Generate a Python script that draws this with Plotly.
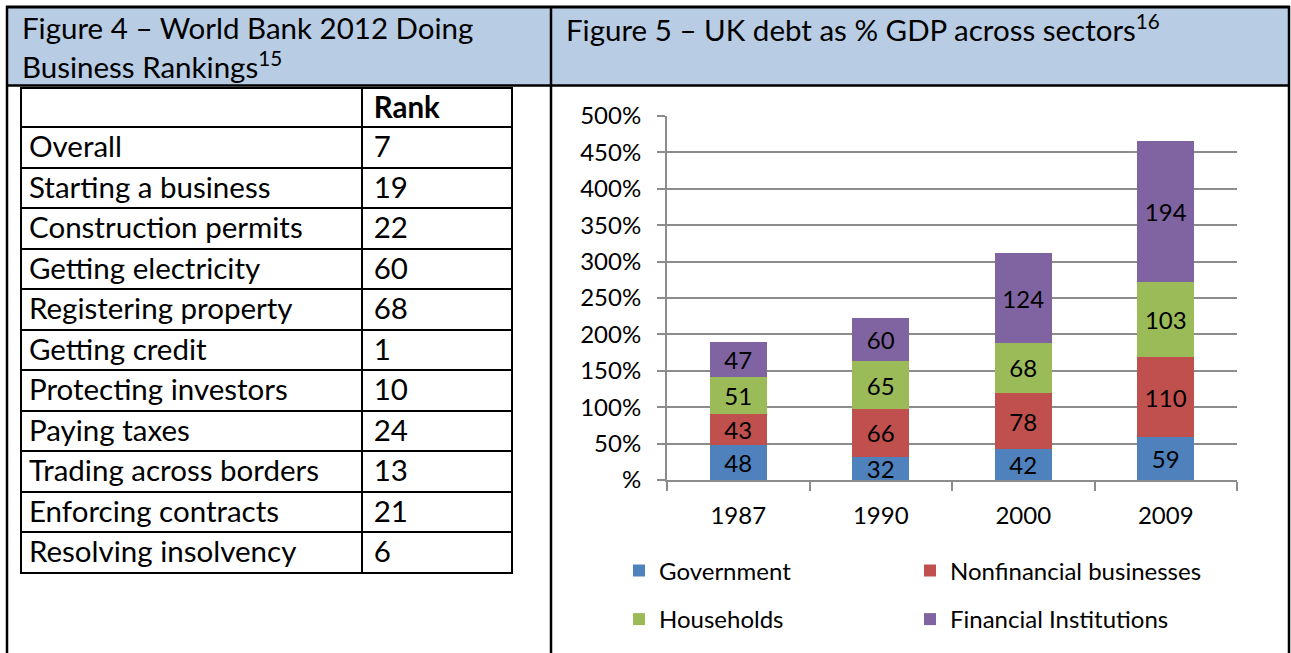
import plotly.graph_objects as go

# ---------------- data ----------------
years = ["1987", "1990", "2000", "2009"]
government = [48, 32, 42, 59]
nonfinancial = [43, 66, 78, 110]
households = [51, 65, 68, 103]
financial = [47, 60, 124, 194]
series_names = ["Government", "Nonfinancial businesses", "Households", "Financial Institutions"]
series_colors = ["#4F81BD", "#C0504D", "#9BBB59", "#8064A2"]

y_tick_values = [0, 50, 100, 150, 200, 250, 300, 350, 400, 450, 500]
y_tick_labels = ["%", "50%", "100%", "150%", "200%", "250%", "300%", "350%", "400%", "450%", "500%"]

table_header = ["", "Rank"]
indicators = ["Overall", "Starting a business", "Construction permits", "Getting electricity",
              "Registering property", "Getting credit", "Protecting investors", "Paying taxes",
              "Trading across borders", "Enforcing contracts", "Resolving insolvency"]
ranks = [7, 19, 22, 60, 68, 1, 10, 24, 13, 21, 6]

title_left_1 = "Figure 4 – World Bank 2012 Doing"
title_left_2 = "Business Rankings<sup>15</sup>"
title_right = "Figure 5 – UK debt as % GDP across sectors<sup>16</sup>"

# ---------------- layout helpers ----------------
W, H = 1291, 653
FONT = "Lato"
FS_DOC = 29.5     # document text (table, figure titles)
FS_CHART = 24     # chart text
PAD = "\u2009"    # small extra left padding in rank column


def px(x):
    return x / W


def py(y):
    return 1 - y / H


fig = go.Figure()

# table (Figure 4)
fig.add_trace(go.Table(
    domain=dict(x=[px(21), px(512)], y=[0, py(88)]),
    columnwidth=[341, 150],
    header=dict(values=[table_header[0], PAD + table_header[1]], height=39, align="left",
                fill_color="white", line=dict(color="black", width=2),
                font=dict(family=FONT, size=FS_DOC, color="black", weight="bold")),
    cells=dict(values=[indicators, [PAD + str(r) for r in ranks]],
               height=40.5, align="left",
               fill_color="white", line=dict(color="black", width=2),
               font=dict(family=FONT, size=FS_DOC, color="black")),
))

# stacked bars (Figure 5)
series_values = [government, nonfinancial, households, financial]
legend_ids = ["legend", "legend", "legend2", "legend2"]
for name, vals, col, lg in zip(series_names, series_values, series_colors, legend_ids):
    fig.add_trace(go.Bar(
        x=years, y=vals, name=name, marker=dict(color=col, line=dict(width=0)),
        text=[str(v) for v in vals], textposition="inside", insidetextanchor="middle",
        textangle=0, textfont=dict(family=FONT, size=FS_CHART, color="black"),
        legend=lg, hoverinfo="skip",
    ))

legend_style = dict(orientation="h", x=px(619), xanchor="left", yanchor="middle",
                    entrywidth=246, font=dict(family=FONT, size=FS_CHART, color="black"),
                    bgcolor="rgba(0,0,0,0)", traceorder="normal", itemclick=False)

fig.update_layout(
    width=W, height=H,
    margin=dict(l=0, r=0, t=0, b=0),
    paper_bgcolor="white", plot_bgcolor="white",
    barmode="stack", bargap=0.6,
    font=dict(family=FONT, size=FS_CHART, color="black"),
    uniformtext=dict(mode="show", minsize=FS_CHART),
    showlegend=True,
    legend=dict(legend_style, y=py(571)),
    legend2=dict(legend_style, y=py(619.5)),
    xaxis=dict(domain=[px(667), px(1237)], type="category", tickson="boundaries",
               ticks="outside", ticklen=9, tickwidth=2, tickcolor="#8C8C8C",
               showline=True, linecolor="#8C8C8C", linewidth=2, showgrid=False,
               tickfont=dict(family=FONT, size=FS_CHART, color="black"), ticklabelstandoff=13,
               anchor="y", fixedrange=True, automargin=False),
    yaxis=dict(domain=[py(480), py(116)], range=[0, 500],
               tickvals=y_tick_values, ticktext=y_tick_labels,
               ticks="outside", ticklen=8, tickwidth=2, tickcolor="#8C8C8C",
               showline=True, linecolor="#8C8C8C", linewidth=2,
               showgrid=True, gridcolor="#8C8C8C", gridwidth=2, zeroline=False,
               tickfont=dict(family=FONT, size=FS_CHART, color="black"), ticklabelstandoff=11,
               anchor="x", fixedrange=True, automargin=False),
)

# page frame: header band and borders
line_c = "black"
shapes = [
    dict(type="rect", xref="paper", yref="paper", x0=px(7), x1=px(1290), y0=py(85), y1=py(7),
         fillcolor="#B8CCE4", line=dict(width=0), layer="below"),
    dict(type="line", xref="paper", yref="paper", x0=px(6), x1=px(1290), y0=py(7), y1=py(7),
         line=dict(color=line_c, width=3)),
    dict(type="line", xref="paper", yref="paper", x0=px(6), x1=px(1290), y0=py(85.5), y1=py(85.5),
         line=dict(color=line_c, width=2.5)),
    dict(type="line", xref="paper", yref="paper", x0=px(7), x1=px(7), y0=py(6), y1=py(653),
         line=dict(color=line_c, width=2.5)),
    dict(type="line", xref="paper", yref="paper", x0=px(551), x1=px(551), y0=py(6), y1=py(653),
         line=dict(color=line_c, width=2.5)),
    dict(type="line", xref="paper", yref="paper", x0=px(1289), x1=px(1289), y0=py(6), y1=py(653),
         line=dict(color=line_c, width=2.5)),
]
fig.update_layout(shapes=shapes)

annotations = [
    dict(text=title_left_1, x=px(20), y=py(28)),
    dict(text=title_left_2, x=px(20), y=py(65)),
    dict(text=title_right, x=px(564), y=py(28)),
]
for a in annotations:
    a.update(xref="paper", yref="paper", showarrow=False, xanchor="left", yanchor="middle",
             font=dict(family=FONT, size=FS_DOC, color="black"))
fig.update_layout(annotations=annotations)

fig.write_html(
    "out.html",
    config={"displayModeBar": False, "responsive": False},
    post_script="document.body.style.margin='0';document.body.style.overflow='hidden';",
)
